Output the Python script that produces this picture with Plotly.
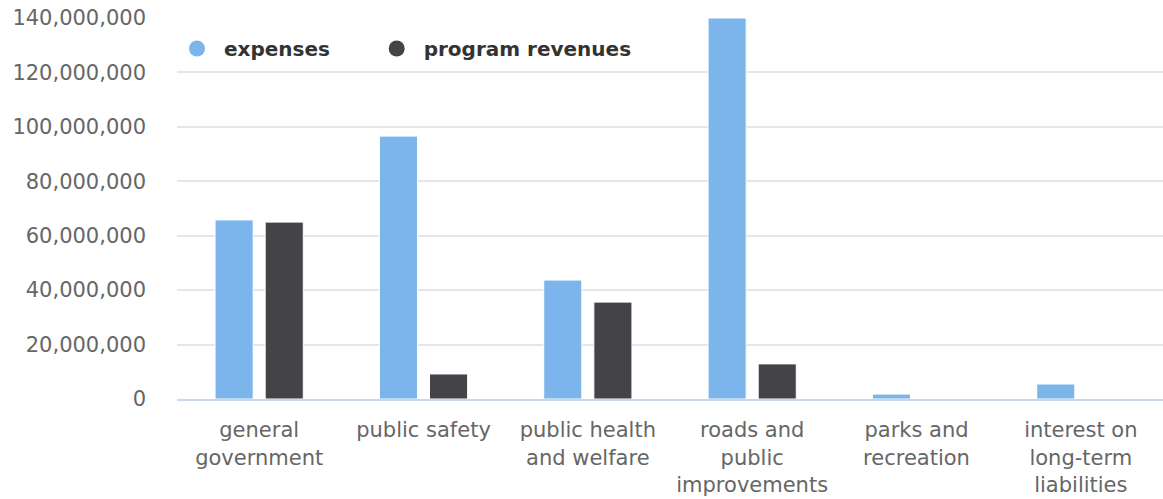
import plotly.graph_objects as go

categories = ["general<br>government", "public safety", "public health<br>and welfare",
              "roads and<br>public<br>improvements", "parks and<br>recreation",
              "interest on<br>long-term<br>liabilities"]
expenses = [65.8e6, 96.6e6, 43.7e6, 140.0e6, 1.8e6, 5.5e6]
program_revenues = [65.0e6, 9.2e6, 35.6e6, 12.9e6, 0, 0]
tick_vals = [0, 20e6, 40e6, 60e6, 80e6, 100e6, 120e6, 140e6]
series_names = ["expenses", "program revenues"]

C_EXP = "#7cb5ec"
C_REV = "#434348"
FONT = "DejaVu Sans"
NB = "\u00a0"

fig = go.Figure()
fig.add_trace(go.Bar(x=categories, y=expenses, name=series_names[0],
                     marker=dict(color=C_EXP, line=dict(color="white", width=1)),
                     showlegend=False, legendgroup="e"))
fig.add_trace(go.Bar(x=categories, y=program_revenues, name=series_names[1],
                     marker=dict(color=C_REV, line=dict(color="white", width=1)),
                     showlegend=False, legendgroup="r"))
fig.add_trace(go.Scatter(x=[None], y=[None], mode="markers", name=NB + series_names[0] + NB * 6,
                         marker=dict(color=C_EXP, size=24, symbol="circle"), legendgroup="e"))
fig.add_trace(go.Scatter(x=[None], y=[None], mode="markers", name=NB + series_names[1],
                         marker=dict(color=C_REV, size=24, symbol="circle"), legendgroup="r"))

fig.update_layout(
    width=1163, height=499,
    margin=dict(l=177, r=0, t=18, b=100),
    paper_bgcolor="white", plot_bgcolor="white",
    barmode="group", bargap=0.39, bargroupgap=0.24,
    font=dict(family=FONT, size=21, color="#666666"),
    showlegend=True,
    legend=dict(orientation="h", x=0.0, xanchor="left", y=0.92, yanchor="middle",
                font=dict(family=FONT, size=20, color="#333333", weight="bold"),
                bgcolor="rgba(0,0,0,0)"),
    xaxis=dict(showline=True, linecolor="#ccd6eb", linewidth=2, showgrid=False,
               ticks="", ticklabelstandoff=11, tickfont=dict(size=21, color="#666666")),
    yaxis=dict(range=[0, 140e6], tickvals=tick_vals, tickformat=",d",
               showgrid=True, gridcolor="#e6e6e6", gridwidth=1.5, zeroline=False,
               showline=False, ticks="", ticklabelstandoff=30,
               tickfont=dict(size=21, color="#666666")),
)

fig.write_html("out.html")
